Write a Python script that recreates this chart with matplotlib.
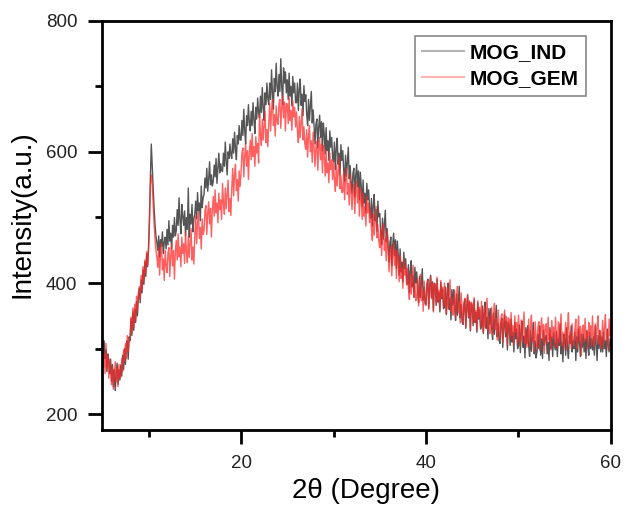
"""
XRD pattern of MOG_IND and MOG_GEM
"""
import numpy as np
import matplotlib.pyplot as plt
from matplotlib.ticker import MultipleLocator

plt.rcParams["font.family"] = ["Liberation Sans", "DejaVu Sans"]

# 2theta scan, 0.1 degree step
two_theta = np.round(np.arange(5.0, 60.001, 0.1), 1)

# intensities, one row per degree (n.0 .. n.9)
mog_ind = [
    305, 278, 312, 285, 298, 265, 292, 280, 262, 284,
    250, 276, 242, 268, 236, 260, 278, 246, 268, 252,
    275, 258, 290, 268, 300, 276, 305, 312, 284, 318,
    312, 345, 320, 356, 328, 360, 340, 372, 350, 380,
    392, 370, 405, 385, 420, 398, 432, 410, 445, 425,
    455, 500, 560, 612, 578, 545, 515, 490, 472, 462,
    450, 472, 440, 466, 456, 478, 445, 462, 470, 452,
    482, 458, 495, 464, 476, 452, 488, 470, 500, 472,
    480, 512, 488, 530, 496, 475, 520, 502, 488, 510,
    472, 500, 482, 545, 470, 505, 490, 520, 478, 498,
    505, 525, 498, 538, 510, 522, 495, 548, 515, 530,
    535, 560, 545, 575, 540, 558, 585, 550, 565, 548,
    555, 580, 562, 590, 552, 575, 598, 568, 582, 572,
    570, 598, 578, 615, 585, 565, 600, 590, 612, 595,
    590, 620, 598, 630, 605, 588, 625, 612, 640, 618,
    618, 648, 625, 665, 632, 612, 655, 640, 672, 645,
    632, 662, 640, 675, 648, 628, 668, 650, 682, 660,
    652, 685, 660, 698, 668, 648, 690, 672, 705, 680,
    672, 705, 680, 725, 690, 665, 712, 692, 735, 700,
    685, 718, 692, 742, 700, 672, 728, 705, 722, 690,
    710, 680, 720, 685, 700, 670, 715, 690, 705, 675,
    675, 705, 663, 695, 711, 671, 688, 655, 701, 677,
    687, 657, 640, 680, 648, 670, 692, 644, 664, 638,
    612, 642, 650, 606, 638, 656, 622, 646, 602, 644,
    627, 597, 637, 602, 617, 587, 632, 607, 622, 592,
    585, 615, 573, 605, 621, 581, 598, 565, 611, 587,
    602, 572, 555, 595, 563, 585, 607, 559, 579, 553,
    537, 567, 575, 531, 563, 581, 547, 571, 527, 569,
    547, 517, 557, 522, 537, 507, 552, 527, 542, 512,
    499, 529, 487, 519, 535, 495, 512, 479, 525, 501,
    506, 476, 459, 499, 467, 489, 511, 463, 483, 457,
    432, 462, 470, 426, 458, 476, 442, 466, 422, 464,
    442, 412, 452, 417, 432, 402, 447, 422, 437, 407,
    398, 428, 386, 418, 434, 394, 411, 378, 424, 400,
    417, 387, 370, 410, 378, 400, 422, 374, 394, 368,
    368, 398, 406, 362, 394, 412, 378, 402, 358, 400,
    396, 366, 406, 371, 386, 356, 401, 376, 391, 361,
    364, 394, 352, 384, 400, 360, 377, 344, 390, 366,
    390, 360, 343, 383, 351, 373, 395, 347, 367, 341,
    337, 367, 375, 331, 363, 381, 347, 371, 327, 369,
    365, 335, 375, 340, 355, 325, 370, 345, 360, 330,
    335, 365, 323, 355, 371, 331, 348, 315, 361, 337,
    361, 331, 314, 354, 322, 344, 366, 318, 338, 312,
    308, 338, 346, 302, 334, 352, 318, 342, 298, 340,
    335, 305, 345, 310, 325, 295, 340, 315, 330, 300,
    306, 336, 294, 326, 342, 302, 319, 286, 332, 308,
    335, 305, 288, 328, 296, 318, 340, 292, 312, 286,
    295, 322, 300, 335, 290, 315, 285, 328, 305, 318,
    320, 292, 310, 282, 332, 300, 318, 288, 325, 305,
    298, 326, 288, 315, 305, 338, 292, 310, 280, 322,
    315, 290, 332, 300, 285, 320, 308, 335, 295, 312,
    300, 325, 282, 318, 295, 330, 310, 288, 322, 302,
    322, 295, 315, 285, 328, 305, 290, 325, 300, 315,
    298, 318, 290, 335, 305, 282, 320, 300, 328, 295,
    318, 295, 325, 300, 312, 288, 330, 305, 295, 315,
    305,
]

mog_gem = [
    298, 272, 292, 262, 308, 270, 290, 255, 284, 268,
    245, 272, 238, 262, 280, 250, 270, 242, 276, 255,
    258, 285, 265, 298, 280, 308, 285, 320, 296, 312,
    315, 348, 325, 362, 332, 368, 342, 380, 358, 385,
    395, 375, 412, 390, 425, 402, 435, 415, 448, 428,
    450, 490, 548, 565, 552, 520, 490, 468, 450, 440,
    424, 454, 412, 444, 460, 420, 437, 404, 450, 426,
    416, 446, 454, 410, 442, 460, 426, 450, 406, 448,
    465, 435, 475, 440, 455, 425, 470, 445, 460, 430,
    478, 448, 431, 471, 439, 461, 483, 435, 455, 429,
    472, 502, 460, 492, 508, 468, 485, 452, 498, 474,
    480, 510, 518, 474, 506, 524, 490, 514, 470, 512,
    532, 502, 542, 507, 522, 492, 537, 512, 527, 497,
    552, 522, 505, 545, 513, 535, 557, 509, 529, 503,
    545, 575, 533, 565, 581, 541, 558, 525, 571, 547,
    568, 598, 606, 562, 594, 612, 578, 602, 558, 600,
    618, 588, 628, 593, 608, 578, 623, 598, 613, 583,
    657, 627, 610, 650, 618, 640, 662, 614, 634, 608,
    644, 674, 632, 664, 680, 640, 657, 624, 670, 646,
    642, 672, 680, 636, 668, 686, 652, 676, 632, 674,
    673, 643, 683, 648, 663, 633, 678, 653, 668, 638,
    661, 631, 614, 654, 622, 644, 666, 618, 638, 612,
    604, 634, 592, 624, 640, 600, 617, 584, 630, 606,
    578, 608, 616, 572, 604, 622, 588, 612, 568, 610,
    593, 563, 603, 568, 583, 553, 598, 573, 588, 558,
    587, 557, 540, 580, 548, 570, 592, 544, 564, 538,
    539, 569, 527, 559, 575, 535, 552, 519, 565, 541,
    512, 542, 550, 506, 538, 556, 522, 546, 502, 544,
    527, 497, 537, 502, 517, 487, 532, 507, 522, 492,
    512, 482, 465, 505, 473, 495, 517, 469, 489, 463,
    454, 484, 442, 474, 490, 450, 467, 434, 480, 456,
    417, 447, 455, 411, 443, 461, 427, 451, 407, 449,
    432, 402, 442, 407, 422, 392, 437, 412, 427, 397,
    422, 392, 375, 415, 383, 405, 427, 379, 399, 373,
    377, 407, 365, 397, 413, 373, 390, 357, 403, 379,
    366, 396, 404, 360, 392, 410, 376, 400, 356, 398,
    399, 369, 409, 374, 389, 359, 404, 379, 394, 364,
    400, 370, 353, 393, 361, 383, 405, 357, 377, 351,
    359, 389, 347, 379, 395, 355, 372, 339, 385, 361,
    339, 369, 377, 333, 365, 383, 349, 373, 329, 371,
    368, 338, 378, 343, 358, 328, 373, 348, 363, 333,
    372, 342, 325, 365, 333, 355, 377, 329, 349, 323,
    333, 363, 321, 353, 369, 329, 346, 313, 359, 335,
    315, 345, 353, 309, 341, 359, 325, 349, 305, 347,
    345, 315, 355, 320, 335, 305, 350, 325, 340, 310,
    351, 321, 304, 344, 312, 334, 356, 308, 328, 302,
    315, 345, 303, 335, 351, 311, 328, 295, 341, 317,
    303, 333, 341, 297, 329, 347, 313, 337, 293, 335,
    338, 308, 348, 313, 328, 298, 343, 318, 333, 303,
    348, 318, 301, 341, 309, 331, 353, 305, 325, 299,
    320, 340, 298, 332, 355, 308, 325, 300, 338, 312,
    305, 330, 345, 300, 326, 350, 310, 334, 290, 330,
    336, 310, 346, 315, 326, 300, 340, 320, 335, 305,
    350, 316, 303, 338, 311, 333, 350, 307, 327, 300,
    318, 343, 305, 333, 352, 313, 326, 298, 345, 320,
    318,
]

fig = plt.figure(figsize=(6.26, 5.11), dpi=100)
ax = fig.add_axes([0.1634, 0.1585, 0.8126, 0.801])

ax.plot(two_theta, mog_ind, color="#2a2a2a", lw=1.0, alpha=0.8, label="MOG_IND")
ax.plot(two_theta, mog_gem, color="#ff2a2a", lw=1.0, alpha=0.75, label="MOG_GEM")

ax.set_xlim(5, 60)
ax.set_ylim(176, 800)
ax.xaxis.set_major_locator(MultipleLocator(20))
ax.xaxis.set_minor_locator(MultipleLocator(10))
ax.yaxis.set_major_locator(MultipleLocator(200))
ax.yaxis.set_minor_locator(MultipleLocator(100))

for s in ax.spines.values():
    s.set_linewidth(2)
ax.tick_params(which="major", direction="out", length=10, width=2, pad=8,
               labelsize=13.5, labelcolor="#222222")
ax.tick_params(which="minor", direction="out", length=5, width=2)

ax.set_xlabel("2θ (Degree)", fontsize=20)
ax.set_ylabel("Intensity(a.u.)", fontsize=20)
ax.xaxis.set_label_coords(0.518, -0.118)
ax.yaxis.set_label_coords(-0.132, 0.528)

leg = ax.legend(loc="upper right", bbox_to_anchor=(0.951, 0.963), borderaxespad=0,
                fancybox=False, edgecolor="#888888", framealpha=1,
                prop={"weight": "bold", "size": 15}, handlelength=2.0,
                handletextpad=0.3, labelspacing=0.35, borderpad=0.35)
leg.get_frame().set_linewidth(1.2)
for line in leg.get_lines():
    line.set_alpha(0.35)
    line.set_linewidth(1.5)

plt.savefig("out.png")
